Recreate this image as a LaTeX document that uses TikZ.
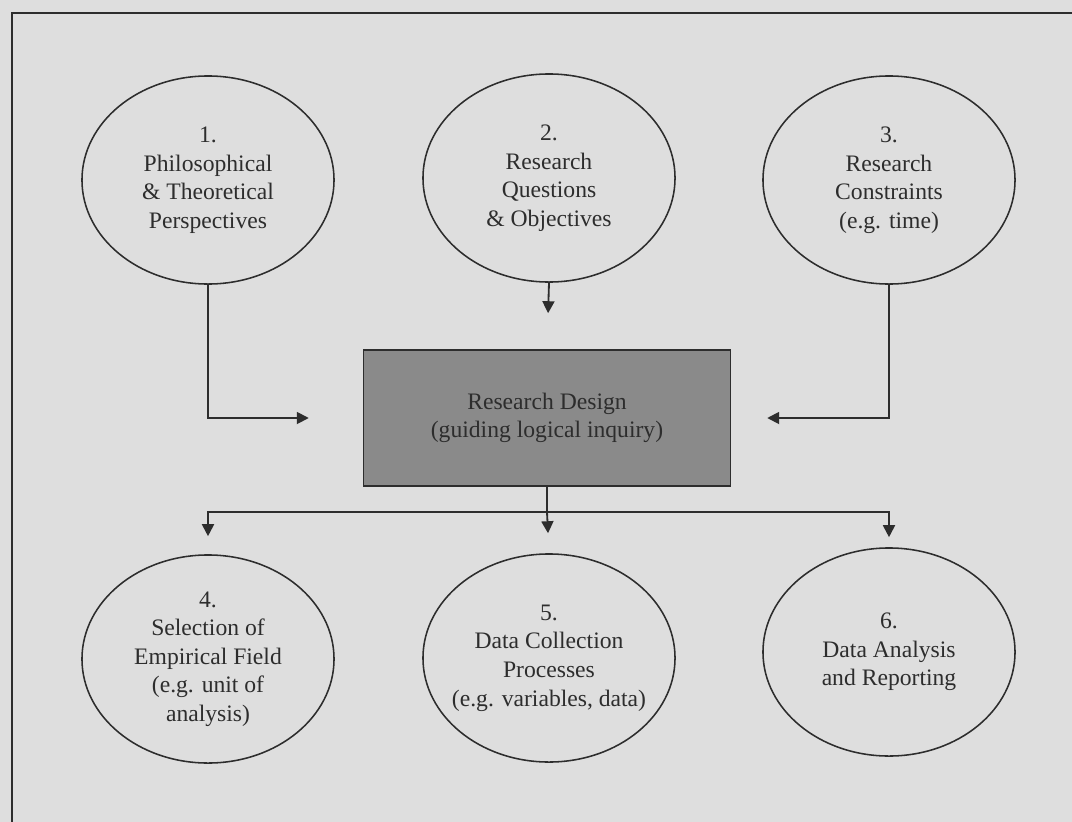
\documentclass[tikz,border=0pt]{standalone}
\usepackage{fontspec}
\setmainfont{Liberation Serif}
\usetikzlibrary{arrows.meta,positioning,shapes.geometric}
\definecolor{paper}{RGB}{222,222,222}
\definecolor{ink}{RGB}{45,45,45}
\definecolor{shade}{RGB}{138,138,138}
\tikzset{
  phase/.style={ellipse,draw=ink,line width=1.1pt,inner sep=-1cm,
    minimum width=6.3cm,minimum height=5.2cm,align=center,text=ink,
    font=\fontsize{16.8}{20.3}\selectfont},
  core/.style={draw=ink,line width=1.1pt,fill=shade,align=center,text=ink,
    minimum width=9.17cm,minimum height=3.4cm,
    font=\fontsize{16.8}{20.3}\selectfont},
  wire/.style={draw=ink,line width=1.3pt},
  arr/.style={wire,-{Triangle[length=3mm,width=3mm]}},
}

\begin{document}
\begin{tikzpicture}[x=0.025cm,y=-0.025cm]
\useasboundingbox (0,0) rectangle (1072,822);
\clip (0,0) rectangle (1072,822);
\fill[paper] (0,0) rectangle (1072,822);
\draw[ink,line width=1.2pt] (1080,13) -- (12,13) -- (12,830);

% inputs
\node[phase] (e1) at (208,180) {1.\\Philosophical\\\& Theoretical\\Perspectives};
\node[phase] (e2) at (549,178) {2.\\Research\\Questions\\\& Objectives};
\node[phase] (e3) at (889,180) {3.\\Research\\Constraints\\(e.g. time)};

% design
\node[core] (design) at (547,418) {Research Design\\(guiding logical inquiry)};

% outputs
\node[phase] (e4) at (208,659) {4.\\Selection of\\Empirical Field\\(e.g. unit of\\analysis)};
\node[phase] (e5) at (549,658) {5.\\Data Collection\\Processes\\(e.g. variables, data)};
\node[phase] (e6) at (889,652) {6.\\Data Analysis\\and Reporting};

\draw[arr,shorten >=1.35cm] (e1.south) |- (design.west);
\draw[arr,shorten >=0.9cm] (e2.south) -- (design.north);
\draw[arr,shorten >=0.9cm] (e3.south) |- (design.east);

\coordinate (bus) at (547,512);
\draw[wire] (design.south) -- (bus);
\draw[arr,shorten >=0.45cm] (bus) -| (e4.north);
\draw[arr,shorten >=0.5cm] (bus) -- (e5.north);
\draw[arr,shorten >=0.25cm] (bus) -| (e6.north);
\end{tikzpicture}
\end{document}
